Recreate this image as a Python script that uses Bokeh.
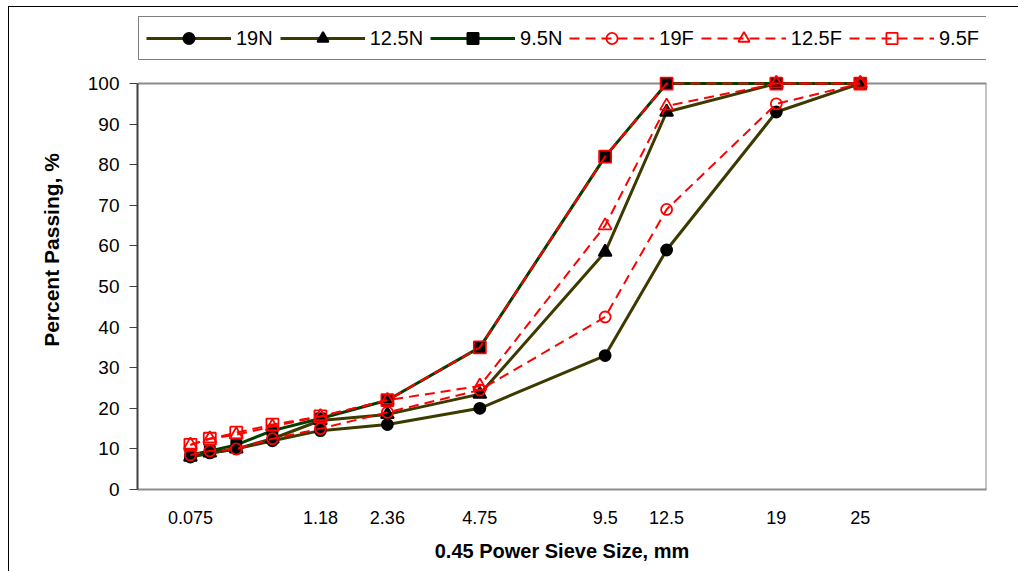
import numpy as np
from bokeh.plotting import figure
from bokeh.models import Legend, LegendItem, FixedTicker, Range1d, Column
from bokeh.embed import file_html
from bokeh.resources import INLINE

# ---- data ----
sieve = [0.075, 0.15, 0.3, 0.6, 1.18, 2.36, 4.75, 9.5, 12.5, 19, 25]
tick_sieves = [0.075, 1.18, 2.36, 4.75, 9.5, 12.5, 19, 25]
tick_labels = ["0.075", "1.18", "2.36", "4.75", "9.5", "12.5", "19", "25"]

n19 = [8, 9, 10, 12, 14.5, 16, 20, 33, 59, 93, 100]
n125 = [8, 9, 10, 12.5, 17, 18.5, 23.5, 58.5, 93, 100, 100]
n95 = [8.5, 9.5, 11, 14.5, 17.5, 22, 35, 82, 100, 100, 100]
f19 = [8.5, 9.5, 10, 12.5, 15, 19, 24.5, 42.5, 69, 95, 100]
f125 = [11, 12.5, 13.5, 15.5, 18, 22, 25.5, 65, 94.5, 100, 100]
f95 = [11, 12.5, 14, 16, 18, 22, 35, 82, 100, 100, 100]

x = list(np.power(sieve, 0.45))
tick_x = list(np.power(tick_sieves, 0.45))

p = figure(width=1010, height=564, output_backend="svg", toolbar_location=None,
           x_range=Range1d(0, 5), y_range=Range1d(0, 118),
           min_border_left=128, min_border_right=33, min_border_top=3, min_border_bottom=82)
p.grid.visible = False
p.outline_line_color = None
p.background_fill_color = "white"
p.border_fill_color = "white"

# frame lines (top at 100 and right edge)
p.segment(x0=[0, 5], y0=[100, 0], x1=[5, 5], y1=[100, 100], line_color="#8c8c8c", line_width=2)

# axes
xa = p.xaxis[0]
xa.ticker = FixedTicker(ticks=tick_x)
xa.major_label_overrides = {float(t): l for t, l in zip(tick_x, tick_labels)}
xa.axis_line_color = "#8c8c8c"
xa.axis_line_width = 2
xa.major_tick_line_color = None
xa.minor_tick_line_color = None
xa.major_label_standoff = 15
xa.major_label_text_font = "Liberation Sans"
xa.major_label_text_font_size = "18px"
xa.major_label_text_color = "black"
xa.axis_label = "0.45 Power Sieve Size, mm"
xa.axis_label_text_font = "Liberation Sans"
xa.axis_label_text_font_style = "bold"
xa.axis_label_text_font_size = "20px"
xa.axis_label_standoff = 13
xa.axis_label_text_color = "black"

ya = p.yaxis[0]
ya.bounds = (0, 100)
ya.ticker = FixedTicker(ticks=list(range(0, 101, 10)))
ya.axis_line_color = "#404040"
ya.axis_line_width = 2
ya.major_tick_line_color = "#404040"
ya.major_tick_line_width = 1
ya.major_tick_out = 8
ya.major_tick_in = 0
ya.minor_tick_line_color = None
ya.major_label_standoff = 10
ya.major_label_text_font = "Liberation Sans"
ya.major_label_text_font_size = "19px"
ya.major_label_text_color = "black"
ya.axis_label = "Percent Passing, %"
ya.axis_label_text_font = "Liberation Sans"
ya.axis_label_text_font_style = "bold"
ya.axis_label_text_font_size = "21px"
ya.axis_label_standoff = 22
ya.axis_label_text_color = "black"

items = []
olive = "#3d3a00"
green = "#003f00"
red = "#ff0000"

series = [
    ("19N", n19, olive, "solid", 3, "circle", "black", "black", 11),
    ("12.5N", n125, olive, "solid", 3, "triangle", "black", "black", 13),
    ("9.5N", n95, green, "solid", 3, "square", "black", "black", 10),
    ("19F", f19, red, "10 6", 2, "circle", None, red, 11),
    ("12.5F", f125, red, "10 6", 2, "triangle", None, red, 13),
    ("9.5F", f95, red, "10 6", 2, "square", None, red, 12),
]
for label, ys, lc, dash, lw, marker, fc, mlc, size in series:
    lr = p.line(x, ys, line_color=lc, line_width=lw, line_dash=dash)
    sr = p.scatter(x, ys, marker=marker, size=size, fill_color=fc, line_color=mlc,
                   line_width=1.8)
    items.append(LegendItem(label=label, renderers=[lr, sr]))

legend = Legend(items=items, orientation="horizontal", location=(1, 429),
                glyph_width=85, glyph_height=28, label_height=28, label_standoff=5,
                spacing=7, padding=7, margin=0,
                label_text_font="Liberation Sans", label_text_font_size="20px",
                label_text_color="black",
                border_line_color="black", border_line_width=1,
                background_fill_color="white", background_fill_alpha=1)
p.add_layout(legend, "center")

root = Column(children=[p], styles={"border-left": "1px solid black",
                                    "border-top": "1px solid black",
                                    "margin-left": "8px", "margin-top": "6px"})

open("out.html", "w").write(file_html(root, INLINE))
